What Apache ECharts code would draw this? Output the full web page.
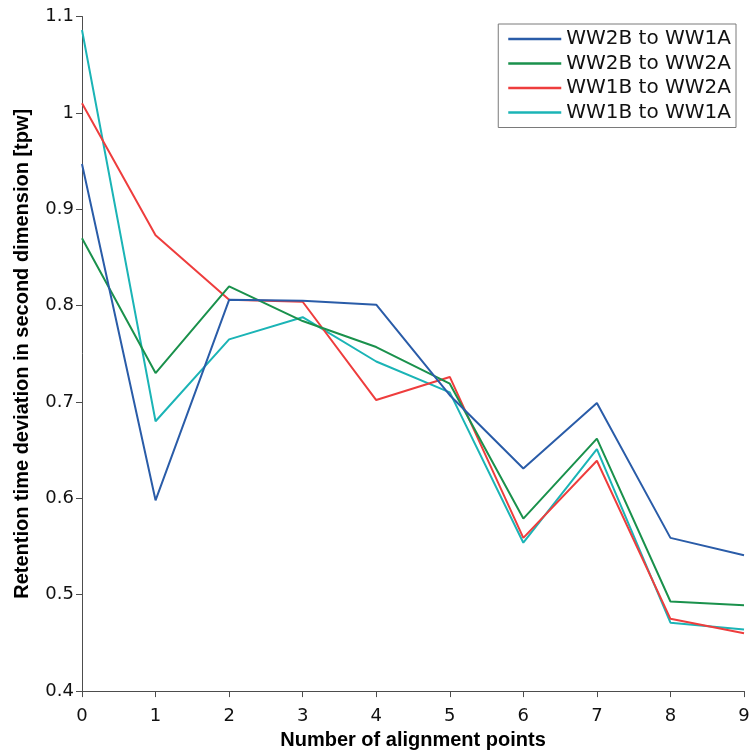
<!DOCTYPE html>
<html>
<head>
<meta charset="utf-8">
<title>Retention time deviation vs. alignment points</title>
<script src="https://cdn.jsdelivr.net/npm/echarts@6/dist/echarts.min.js"></script>
<style>
  html, body { margin: 0; padding: 0; background: #ffffff; }
  #chart { width: 754px; height: 755px; }
</style>
</head>
<body>
<div id="chart"></div>
<script>
// Number of alignment points (x positions)
const alignmentPoints = [0, 1, 2, 3, 4, 5, 6, 7, 8, 9];

// Retention time deviation in the second dimension [tpw] per comparison
const ww2bToWw1a = [0.947, 0.598, 0.806, 0.805, 0.801, 0.707, 0.631, 0.699, 0.559, 0.541];
const ww2bToWw2a = [0.870, 0.730, 0.820, 0.784, 0.757, 0.719, 0.579, 0.662, 0.493, 0.489];
const ww1bToWw2a = [1.010, 0.873, 0.806, 0.804, 0.702, 0.726, 0.559, 0.639, 0.475, 0.460];
const ww1bToWw1a = [1.086, 0.680, 0.765, 0.788, 0.742, 0.710, 0.554, 0.651, 0.471, 0.464];

const seriesNames = ['WW2B to WW1A', 'WW2B to WW2A', 'WW1B to WW2A', 'WW1B to WW1A'];
const seriesValues = [ww2bToWw1a, ww2bToWw2a, ww1bToWw2a, ww1bToWw1a];
const seriesColors = ['#2a5ca8', '#1a914c', '#ee3d3d', '#1bb4b6'];

// Axis ranges and tick steps
const xRange = [0, 9];
const xStep = 1;
const yRange = [0.4, 1.1];
const yStep = 0.1;

const axisColor = '#4d4d4d';
const tickFont = 'DejaVu Sans';
const titleFont = 'Liberation Sans, Arial, sans-serif';

const chart = echarts.init(document.getElementById('chart'), null, { renderer: 'canvas' });

chart.setOption({
  animation: false,
  backgroundColor: '#ffffff',
  grid: { left: 82, right: 10, top: 16.5, bottom: 63.5, containLabel: false },
  legend: {
    orient: 'vertical',
    right: 18,
    top: 24,
    padding: [5, 5, 5, 10],
    borderColor: '#7a7a7a',
    borderWidth: 1,
    backgroundColor: '#ffffff',
    icon: 'rect',
    itemWidth: 53,
    itemHeight: 2.5,
    itemGap: 4.5,
    textStyle: { fontFamily: tickFont, fontSize: 20, color: '#111111', lineHeight: 20 },
    data: seriesNames
  },
  xAxis: {
    type: 'value',
    min: xRange[0],
    max: xRange[1],
    interval: xStep,
    name: 'Number of alignment points',
    nameLocation: 'middle',
    nameGap: 34,
    nameTextStyle: { fontFamily: titleFont, fontWeight: 'bold', fontSize: 20, color: '#000000' },
    axisLine: { show: true, lineStyle: { color: axisColor, width: 1 } },
    axisTick: { show: true, inside: false, length: 6, lineStyle: { color: axisColor } },
    axisLabel: { fontFamily: tickFont, fontSize: 18, color: '#111111', margin: 16 },
    splitLine: { show: false }
  },
  yAxis: {
    type: 'value',
    min: yRange[0],
    max: yRange[1],
    interval: yStep,
    name: 'Retention time deviation in second dimension [tpw]',
    nameLocation: 'middle',
    nameGap: 50,
    nameTextStyle: { fontFamily: titleFont, fontWeight: 'bold', fontSize: 20, color: '#000000' },
    axisLine: { show: true, lineStyle: { color: axisColor, width: 1 } },
    axisTick: { show: true, inside: false, length: 6, lineStyle: { color: axisColor } },
    axisLabel: {
      fontFamily: tickFont, fontSize: 18, color: '#111111', margin: 8,
      formatter: v => String(Number(v.toFixed(1)))
    },
    splitLine: { show: false }
  },
  series: seriesNames.map((name, i) => ({
    name: name,
    type: 'line',
    data: alignmentPoints.map((x, j) => [x, seriesValues[i][j]]),
    showSymbol: false,
    symbol: 'none',
    color: seriesColors[i],
    lineStyle: { color: seriesColors[i], width: 2 },
    z: 10 - i
  }))
});
</script>
</body>
</html>
